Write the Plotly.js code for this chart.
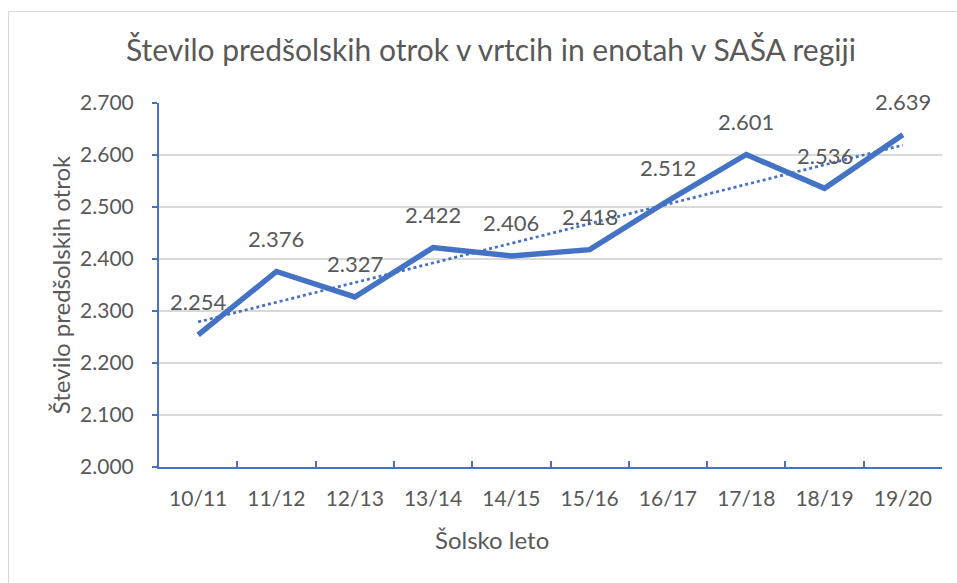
<!DOCTYPE html>
<html>
<head>
<meta charset="utf-8">
<script src="https://cdn.plot.ly/plotly-3.0.1.min.js"></script>
<style>
  html, body { margin: 0; padding: 0; background: #ffffff; }
  #chart { width: 957px; height: 583px; position: absolute; left: 0; top: 0; }
  #frame { position: absolute; left: 8px; top: 11px; width: 1000px; height: 700px;
           border-left: 1px solid #d9d9d9; border-top: 1px solid #d9d9d9; pointer-events: none; }
</style>
</head>
<body>
<div id="chart"></div>
<div id="frame"></div>
<script>
// ---- data ----
const categories = ['10/11', '11/12', '12/13', '13/14', '14/15', '15/16', '16/17', '17/18', '18/19', '19/20'];
const children = [2254, 2376, 2327, 2422, 2406, 2418, 2512, 2601, 2536, 2639];
// dotted linear trendline, endpoints
const trendX = ['10/11', '19/20'];
const trendY = [2279, 2619];
const yTicks = [2000, 2100, 2200, 2300, 2400, 2500, 2600, 2700];
const yTickText = ['2.000', '2.100', '2.200', '2.300', '2.400', '2.500', '2.600', '2.700'];
const labelText = ['2.254', '2.376', '2.327', '2.422', '2.406', '2.418', '2.512', '2.601', '2.536', '2.639'];

const blue = '#4472C4';
const grey = '#595959';
const FONT = 'Lato, "Open Sans", sans-serif';

const traces = [
  {
    x: categories, y: children, type: 'scatter', mode: 'lines',
    line: { color: blue, width: 5.5, shape: 'linear' },
    hoverinfo: 'skip', showlegend: false
  },
  {
    x: trendX, y: trendY, type: 'scatter', mode: 'lines',
    line: { color: blue, width: 2.75, dash: 'dot' },
    hoverinfo: 'skip', showlegend: false
  }
];

const annotations = categories.map((c, i) => ({
  x: c, y: children[i], xref: 'x', yref: 'y',
  text: labelText[i], showarrow: false,
  yanchor: 'middle', xanchor: 'center', yshift: 33,
  font: { family: FONT, size: 22, color: grey }
}));
annotations.push({
  xref: 'paper', yref: 'paper', x: 0.425, y: -0.2,
  text: 'Šolsko leto', showarrow: false, xanchor: 'center', yanchor: 'middle',
  font: { family: FONT, size: 24, color: grey }
});

const layout = {
  width: 957, height: 583,
  margin: { l: 159, r: 15, t: 103, b: 116 },
  paper_bgcolor: 'rgba(0,0,0,0)', plot_bgcolor: '#ffffff',
  font: { family: FONT, color: grey },
  title: {
    text: 'Število predšolskih otrok v vrtcih in enotah v SAŠA regiji',
    font: { family: FONT, size: 30, color: grey },
    x: 0.513, xanchor: 'center', xref: 'container',
    y: 1 - 50 / 583, yanchor: 'middle', yref: 'container'
  },
  xaxis: {
    type: 'category', tickson: 'boundaries', ticks: 'inside', ticklen: 6,
    tickcolor: blue, tickwidth: 2,
    showline: true, linecolor: blue, linewidth: 2,
    showgrid: false, zeroline: false,
    range: [-0.5, 9.5], fixedrange: true,
    tickfont: { family: FONT, size: 21, color: grey },
    ticklabelstandoff: 12
  },
  yaxis: {
    range: [2000, 2700], tickvals: yTicks, ticktext: yTickText,
    ticks: 'outside', ticklen: 5, tickcolor: blue, tickwidth: 2,
    showline: true, linecolor: blue, linewidth: 2,
    showgrid: true, gridcolor: '#d9d9d9', gridwidth: 1.5,
    zeroline: false, fixedrange: true,
    tickfont: { family: FONT, size: 21, color: grey },
    ticklabelstandoff: 14,
    title: { text: 'Število predšolskih otrok', font: { family: FONT, size: 24, color: grey }, standoff: 3 }
  },
  annotations: annotations,
  showlegend: false
};

Plotly.newPlot('chart', traces, layout, { displayModeBar: false, staticPlot: true });
</script>
</body>
</html>
